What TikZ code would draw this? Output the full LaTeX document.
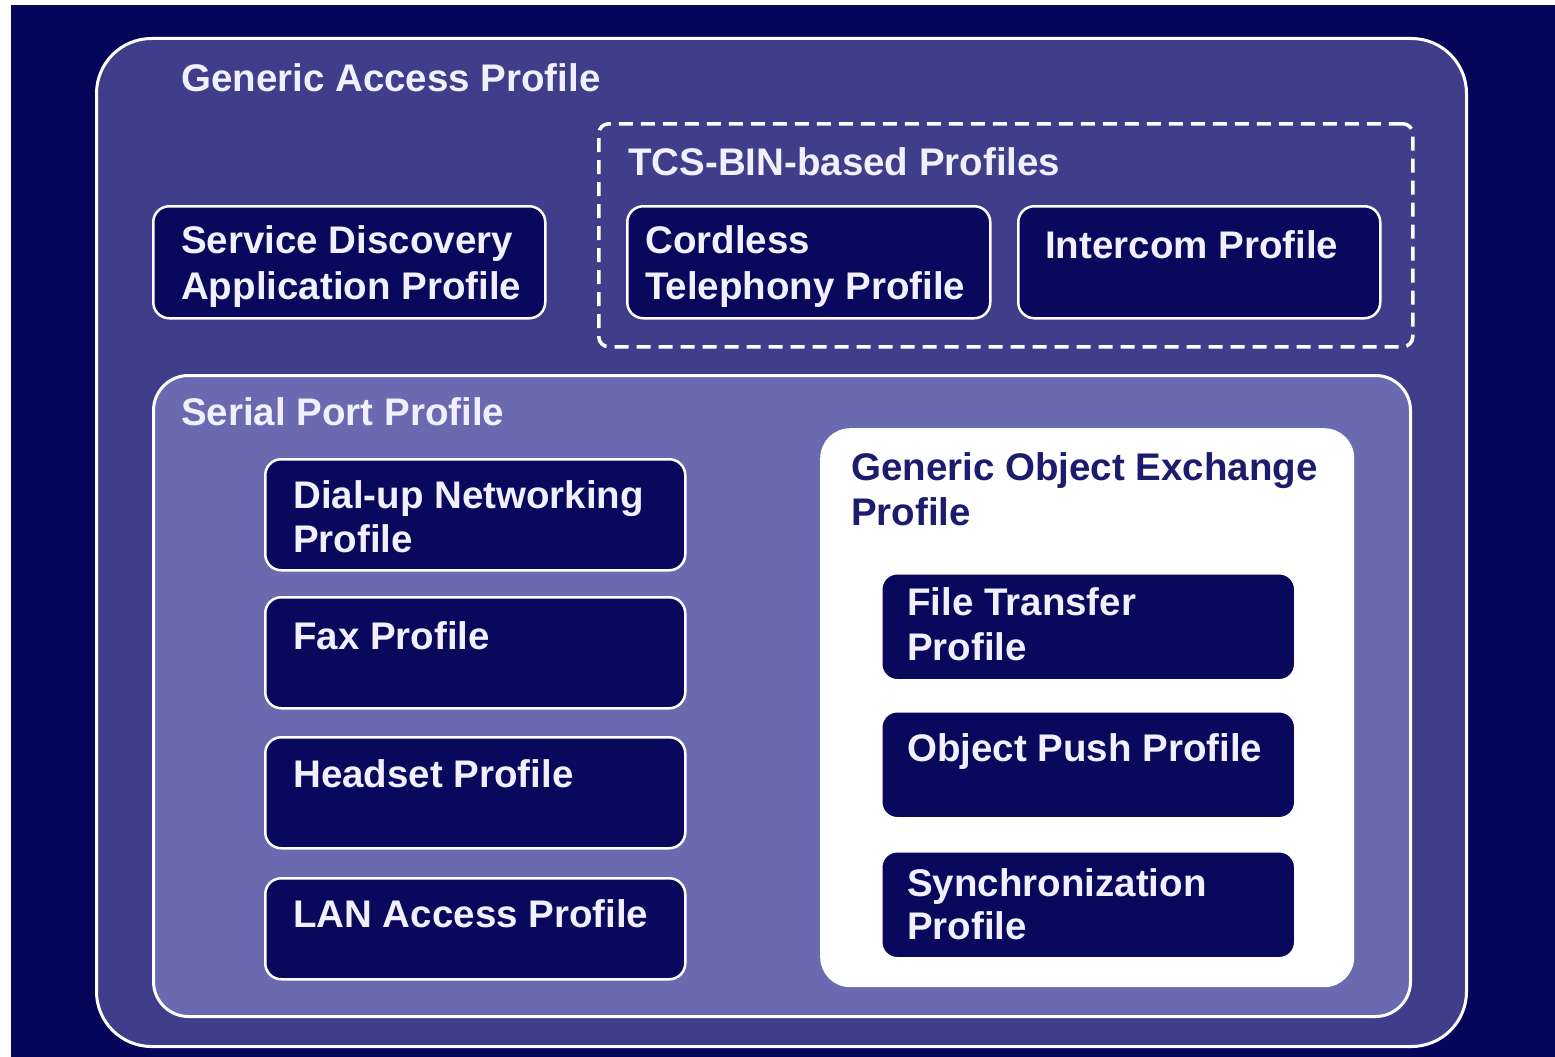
\documentclass[tikz,border=0pt]{standalone}
\usepackage{fontspec}
\setmainfont{Liberation Sans}
\definecolor{navy}{RGB}{4,6,90}
\definecolor{gapfill}{RGB}{62,62,138}
\definecolor{spfill}{RGB}{106,106,176}
\definecolor{boxfill}{RGB}{8,8,92}
\definecolor{txt}{RGB}{240,240,255}
\definecolor{goeptxt}{RGB}{28,28,110}
\begin{document}
\begin{tikzpicture}[x=1pt,y=-1pt,
  frame/.style={draw=white, line width=3pt, anchor=north west, inner sep=0pt},
  pbox/.style={frame, fill=boxfill, rounded corners=16pt, line width=2.5pt},
  lbl/.style={anchor=base west, inner sep=0pt, text=txt, font=\fontsize{38.5}{45}\selectfont\bfseries},
  glbl/.style={lbl, text=goeptxt}]
\useasboundingbox (0,0) rectangle (1555,1057);
\fill[white] (0,0) rectangle (1555,1057);
\fill[navy] (11,5) rectangle (1555,1057);
% outer GAP
\node[frame, fill=gapfill, rounded corners=55pt, minimum width=1370pt, minimum height=1008pt] (gap) at (95,37) {};
\node[lbl] (gapt) at (181,92) {Generic Access Profile};
% SDAP
\node[pbox, minimum width=392pt, minimum height=112pt] (sdap) at (152,205) {};
\node[lbl] (sdap1) at (181,253) {Service Discovery};
\node[lbl] (sdap2) at (181,299) {Application Profile};
% TCS
\node[frame, dashed, dash pattern=on 14pt off 8pt, line width=3.5pt, rounded corners=10pt, minimum width=814pt, minimum height=223pt] (tcs) at (597,122) {};
\node[lbl] (tcst) at (628,175) {TCS-BIN-based Profiles};
\node[pbox, minimum width=363pt, minimum height=112pt] (ctp) at (626,205) {};
\node[lbl] (ctp1) at (645,253) {Cordless};
\node[lbl] (ctp2) at (645,299) {Telephony Profile};
\node[pbox, minimum width=362pt, minimum height=112pt] (icp) at (1017,205) {};
\node[lbl] (icpt) at (1045,258) {Intercom Profile};
% Serial port
\node[frame, fill=spfill, rounded corners=35pt, minimum width=1257pt, minimum height=641pt] (spp) at (152,374) {};
\node[lbl] (sppt) at (181,425) {Serial Port Profile};
\node[pbox, minimum width=420pt, minimum height=111pt] (dun) at (264,458) {};
\node[lbl] (dun1) at (293,508) {Dial-up Networking};
\node[lbl] (dun2) at (293,552) {Profile};
\node[pbox, minimum width=420pt, minimum height=111pt] (fax) at (264,596) {};
\node[lbl] (faxt) at (293,649) {Fax Profile};
\node[pbox, minimum width=420pt, minimum height=111pt] (hsp) at (264,736) {};
\node[lbl] (hspt) at (293,787) {Headset Profile};
\node[pbox, minimum width=420pt, minimum height=101pt] (lan) at (264,877) {};
\node[lbl] (lant) at (293,927) {LAN Access Profile};
% GOEP
\node[anchor=north west, inner sep=0pt, fill=white, rounded corners=30pt, minimum width=534pt, minimum height=559pt] (goep) at (820,428) {};
\node[glbl] (goep1) at (851,480) {Generic Object Exchange};
\node[glbl] (goep2) at (851,525) {Profile};
\node[pbox, minimum width=414pt, minimum height=107pt] (ftp) at (880,572) {};
\node[lbl] (ftp1) at (907,615) {File Transfer};
\node[lbl] (ftp2) at (907,660) {Profile};
\node[pbox, minimum width=414pt, minimum height=107pt] (opp) at (880,710) {};
\node[lbl] (oppt) at (907,761) {Object Push Profile};
\node[pbox, minimum width=414pt, minimum height=107pt] (syn) at (880,850) {};
\node[lbl] (syn1) at (907,896) {Synchronization};
\node[lbl] (syn2) at (907,939) {Profile};
\end{tikzpicture}
\end{document}
